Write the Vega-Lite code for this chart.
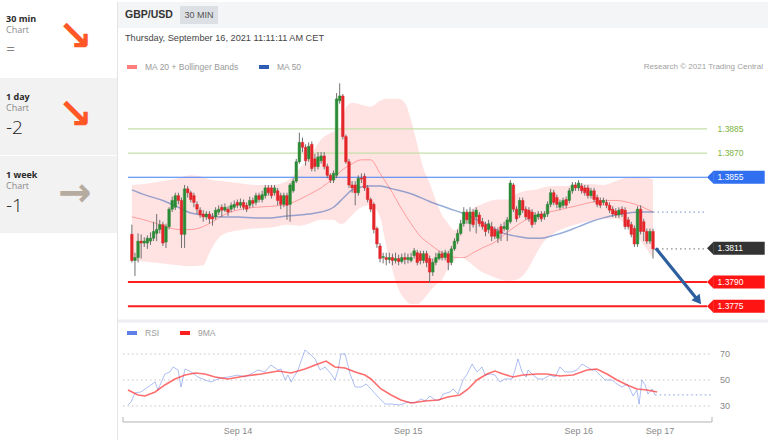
{
"$schema": "https://vega.github.io/schema/vega-lite/v6.json",
"background": "#ffffff",
"padding": 0,
"spacing": 0,
"bounds": "flush",
"resolve": {"scale": {"color": "independent", "fill": "independent", "stroke": "independent"}, "legend": {"color": "independent"}},
"config": {"view": {"stroke": null}, "font": "Liberation Sans", "axis": {"labelFont": "Liberation Sans"}, "legend": {"labelFont": "Liberation Sans"}},
"datasets": {
"frames": [{"tf":"30 min","score":"=","trend":"down"},{"tf":"1 day","score":"-2","trend":"down"},{"tf":"1 week","score":"-1","trend":"flat"}],
"candles": [
{"i":0,"o":1.38196,"c":1.38034,"h":1.38256,"l":1.38022},
{"i":1,"o":1.38034,"c":1.38052,"h":1.38082,"l":1.37938},
{"i":2,"o":1.38052,"c":1.38154,"h":1.38202,"l":1.38022},
{"i":3,"o":1.38154,"c":1.38142,"h":1.38196,"l":1.38046},
{"i":4,"o":1.38142,"c":1.38154,"h":1.38178,"l":1.38118},
{"i":5,"o":1.38142,"c":1.38172,"h":1.3819,"l":1.38106},
{"i":6,"o":1.38154,"c":1.38172,"h":1.38208,"l":1.3813},
{"i":7,"o":1.38172,"c":1.38214,"h":1.38274,"l":1.38154},
{"i":8,"o":1.38202,"c":1.38226,"h":1.38322,"l":1.38154},
{"i":9,"o":1.38226,"c":1.38256,"h":1.38286,"l":1.38202},
{"i":10,"o":1.38256,"c":1.38142,"h":1.38274,"l":1.38124},
{"i":11,"o":1.38148,"c":1.38244,"h":1.38262,"l":1.38112},
{"i":12,"o":1.38244,"c":1.38352,"h":1.38364,"l":1.38226},
{"i":13,"o":1.38352,"c":1.38406,"h":1.3843,"l":1.38334},
{"i":14,"o":1.38364,"c":1.38436,"h":1.38454,"l":1.38346},
{"i":15,"o":1.38436,"c":1.38406,"h":1.38454,"l":1.38382},
{"i":16,"o":1.38406,"c":1.38196,"h":1.38424,"l":1.38112},
{"i":17,"o":1.38196,"c":1.38478,"h":1.38502,"l":1.38112},
{"i":18,"o":1.38478,"c":1.38454,"h":1.38496,"l":1.38424},
{"i":19,"o":1.38454,"c":1.38412,"h":1.38466,"l":1.38394},
{"i":20,"o":1.38436,"c":1.38394,"h":1.38454,"l":1.38364},
{"i":21,"o":1.38382,"c":1.38352,"h":1.384,"l":1.38322},
{"i":22,"o":1.38346,"c":1.38316,"h":1.38364,"l":1.38298},
{"i":23,"o":1.38322,"c":1.38304,"h":1.38346,"l":1.38274},
{"i":24,"o":1.38304,"c":1.38322,"h":1.3834,"l":1.38286},
{"i":25,"o":1.38322,"c":1.38292,"h":1.3834,"l":1.38262},
{"i":26,"o":1.38304,"c":1.38292,"h":1.38328,"l":1.3825},
{"i":27,"o":1.38304,"c":1.38346,"h":1.38364,"l":1.38286},
{"i":28,"o":1.38334,"c":1.38352,"h":1.38376,"l":1.38316},
{"i":29,"o":1.38364,"c":1.38346,"h":1.38382,"l":1.38304},
{"i":30,"o":1.38346,"c":1.38364,"h":1.38388,"l":1.38334},
{"i":31,"o":1.38352,"c":1.38334,"h":1.3837,"l":1.3831},
{"i":32,"o":1.38352,"c":1.38376,"h":1.38394,"l":1.38334},
{"i":33,"o":1.38364,"c":1.38382,"h":1.38406,"l":1.38346},
{"i":34,"o":1.38394,"c":1.38376,"h":1.38412,"l":1.38358},
{"i":35,"o":1.38376,"c":1.38394,"h":1.38418,"l":1.38358},
{"i":36,"o":1.38394,"c":1.38364,"h":1.38412,"l":1.38346},
{"i":37,"o":1.38376,"c":1.38352,"h":1.38394,"l":1.38334},
{"i":38,"o":1.38376,"c":1.38406,"h":1.3843,"l":1.38358},
{"i":39,"o":1.38406,"c":1.38388,"h":1.38424,"l":1.38364},
{"i":40,"o":1.38394,"c":1.38436,"h":1.38454,"l":1.38376},
{"i":41,"o":1.38436,"c":1.38412,"h":1.38454,"l":1.38394},
{"i":42,"o":1.38412,"c":1.38442,"h":1.38466,"l":1.38394},
{"i":43,"o":1.38436,"c":1.38484,"h":1.38502,"l":1.38418},
{"i":44,"o":1.38484,"c":1.38454,"h":1.38502,"l":1.38436},
{"i":45,"o":1.38484,"c":1.38436,"h":1.38502,"l":1.38418},
{"i":46,"o":1.38454,"c":1.38484,"h":1.38502,"l":1.38436},
{"i":47,"o":1.38466,"c":1.38406,"h":1.38484,"l":1.38376},
{"i":48,"o":1.38436,"c":1.38382,"h":1.38454,"l":1.38352},
{"i":49,"o":1.38382,"c":1.38436,"h":1.38454,"l":1.38364},
{"i":50,"o":1.38436,"c":1.38376,"h":1.38454,"l":1.38286},
{"i":51,"o":1.38382,"c":1.38502,"h":1.38514,"l":1.38274},
{"i":52,"o":1.38466,"c":1.38526,"h":1.38544,"l":1.38454},
{"i":53,"o":1.38526,"c":1.38646,"h":1.38664,"l":1.38514},
{"i":54,"o":1.38646,"c":1.38766,"h":1.38826,"l":1.38634},
{"i":55,"o":1.38766,"c":1.38736,"h":1.38796,"l":1.38706},
{"i":56,"o":1.38736,"c":1.38652,"h":1.38754,"l":1.38622},
{"i":57,"o":1.38664,"c":1.38742,"h":1.38766,"l":1.38646},
{"i":58,"o":1.38754,"c":1.38604,"h":1.38772,"l":1.38586},
{"i":59,"o":1.38664,"c":1.38616,"h":1.38694,"l":1.38586},
{"i":60,"o":1.38616,"c":1.38676,"h":1.38706,"l":1.38598},
{"i":61,"o":1.38652,"c":1.38682,"h":1.38706,"l":1.38634},
{"i":62,"o":1.38682,"c":1.38616,"h":1.38706,"l":1.38598},
{"i":63,"o":1.38616,"c":1.38562,"h":1.38634,"l":1.38544},
{"i":64,"o":1.38562,"c":1.38532,"h":1.38574,"l":1.38514},
{"i":65,"o":1.38532,"c":1.38574,"h":1.38592,"l":1.38514},
{"i":66,"o":1.38562,"c":1.39036,"h":1.39072,"l":1.38544},
{"i":67,"o":1.39024,"c":1.39054,"h":1.39132,"l":1.39006},
{"i":68,"o":1.39054,"c":1.38802,"h":1.39066,"l":1.38784},
{"i":69,"o":1.38802,"c":1.38646,"h":1.38814,"l":1.38634},
{"i":70,"o":1.38646,"c":1.38502,"h":1.38664,"l":1.38484},
{"i":71,"o":1.38502,"c":1.38484,"h":1.38526,"l":1.38454},
{"i":72,"o":1.38502,"c":1.38454,"h":1.38526,"l":1.38376},
{"i":73,"o":1.38454,"c":1.38544,"h":1.38562,"l":1.38436},
{"i":74,"o":1.38544,"c":1.38538,"h":1.38574,"l":1.38514},
{"i":75,"o":1.38556,"c":1.38484,"h":1.38574,"l":1.38466},
{"i":76,"o":1.38484,"c":1.38412,"h":1.38502,"l":1.38394},
{"i":77,"o":1.38412,"c":1.38352,"h":1.38424,"l":1.38334},
{"i":78,"o":1.38382,"c":1.38226,"h":1.38394,"l":1.38202},
{"i":79,"o":1.38232,"c":1.38136,"h":1.38244,"l":1.38112},
{"i":80,"o":1.38124,"c":1.38046,"h":1.38142,"l":1.38022},
{"i":81,"o":1.38052,"c":1.38058,"h":1.38082,"l":1.38016},
{"i":82,"o":1.38052,"c":1.3804,"h":1.38082,"l":1.38004},
{"i":83,"o":1.3804,"c":1.38052,"h":1.38082,"l":1.38016},
{"i":84,"o":1.38052,"c":1.38034,"h":1.38076,"l":1.38004},
{"i":85,"o":1.38034,"c":1.38046,"h":1.38082,"l":1.38016},
{"i":86,"o":1.38046,"c":1.38028,"h":1.3807,"l":1.38004},
{"i":87,"o":1.38028,"c":1.38052,"h":1.38076,"l":1.38016},
{"i":88,"o":1.38052,"c":1.3804,"h":1.38082,"l":1.3801},
{"i":89,"o":1.3804,"c":1.38052,"h":1.38076,"l":1.38016},
{"i":90,"o":1.38034,"c":1.38052,"h":1.38082,"l":1.38022},
{"i":91,"o":1.38064,"c":1.38094,"h":1.38112,"l":1.38046},
{"i":92,"o":1.38082,"c":1.38022,"h":1.381,"l":1.38004},
{"i":93,"o":1.38076,"c":1.38034,"h":1.38094,"l":1.3801},
{"i":94,"o":1.38034,"c":1.38076,"h":1.38094,"l":1.38016},
{"i":95,"o":1.38076,"c":1.38022,"h":1.38094,"l":1.37992},
{"i":96,"o":1.38046,"c":1.37962,"h":1.38064,"l":1.37896},
{"i":97,"o":1.37962,"c":1.38022,"h":1.38046,"l":1.37938},
{"i":98,"o":1.38022,"c":1.38052,"h":1.38082,"l":1.38004},
{"i":99,"o":1.38046,"c":1.38076,"h":1.38094,"l":1.38034},
{"i":100,"o":1.38076,"c":1.38052,"h":1.38094,"l":1.38034},
{"i":101,"o":1.38052,"c":1.38082,"h":1.381,"l":1.38034},
{"i":102,"o":1.38076,"c":1.38022,"h":1.38094,"l":1.37974},
{"i":103,"o":1.38022,"c":1.38106,"h":1.38124,"l":1.38004},
{"i":104,"o":1.38106,"c":1.38154,"h":1.38172,"l":1.38094},
{"i":105,"o":1.38154,"c":1.38202,"h":1.38226,"l":1.38136},
{"i":106,"o":1.38202,"c":1.38262,"h":1.38286,"l":1.3819},
{"i":107,"o":1.38262,"c":1.38334,"h":1.38364,"l":1.38244},
{"i":108,"o":1.38334,"c":1.38286,"h":1.38352,"l":1.38262},
{"i":109,"o":1.38262,"c":1.38334,"h":1.38364,"l":1.38214},
{"i":110,"o":1.38334,"c":1.38256,"h":1.38352,"l":1.38238},
{"i":111,"o":1.38304,"c":1.38346,"h":1.38364,"l":1.38202},
{"i":112,"o":1.38316,"c":1.38262,"h":1.38334,"l":1.38244},
{"i":113,"o":1.38274,"c":1.38244,"h":1.38298,"l":1.38226},
{"i":114,"o":1.38256,"c":1.38214,"h":1.38274,"l":1.38184},
{"i":115,"o":1.38226,"c":1.38262,"h":1.38286,"l":1.38202},
{"i":116,"o":1.38244,"c":1.38184,"h":1.38274,"l":1.38154},
{"i":117,"o":1.38226,"c":1.38184,"h":1.38244,"l":1.38166},
{"i":118,"o":1.38172,"c":1.38214,"h":1.38238,"l":1.38142},
{"i":119,"o":1.38244,"c":1.38202,"h":1.38262,"l":1.38154},
{"i":120,"o":1.38232,"c":1.38244,"h":1.38274,"l":1.38214},
{"i":121,"o":1.38226,"c":1.38286,"h":1.38304,"l":1.38154},
{"i":122,"o":1.38274,"c":1.38514,"h":1.38532,"l":1.38262},
{"i":123,"o":1.38502,"c":1.38352,"h":1.38514,"l":1.38334},
{"i":124,"o":1.38352,"c":1.38292,"h":1.3837,"l":1.38274},
{"i":125,"o":1.38316,"c":1.38406,"h":1.38424,"l":1.38298},
{"i":126,"o":1.38406,"c":1.38346,"h":1.38424,"l":1.38328},
{"i":127,"o":1.38352,"c":1.38304,"h":1.3837,"l":1.38286},
{"i":128,"o":1.38346,"c":1.38292,"h":1.38364,"l":1.38274},
{"i":129,"o":1.38334,"c":1.38256,"h":1.38352,"l":1.38238},
{"i":130,"o":1.38274,"c":1.38316,"h":1.38334,"l":1.38256},
{"i":131,"o":1.38304,"c":1.38322,"h":1.3834,"l":1.38286},
{"i":132,"o":1.38322,"c":1.38292,"h":1.3834,"l":1.38274},
{"i":133,"o":1.38304,"c":1.38322,"h":1.3834,"l":1.38286},
{"i":134,"o":1.38322,"c":1.38382,"h":1.384,"l":1.38304},
{"i":135,"o":1.38382,"c":1.38454,"h":1.38478,"l":1.38364},
{"i":136,"o":1.38454,"c":1.38394,"h":1.38472,"l":1.38376},
{"i":137,"o":1.38424,"c":1.38382,"h":1.38442,"l":1.38358},
{"i":138,"o":1.38364,"c":1.38394,"h":1.38412,"l":1.38346},
{"i":139,"o":1.38376,"c":1.38406,"h":1.38424,"l":1.38358},
{"i":140,"o":1.38412,"c":1.38376,"h":1.3843,"l":1.38358},
{"i":141,"o":1.38406,"c":1.38466,"h":1.38484,"l":1.38388},
{"i":142,"o":1.38466,"c":1.38502,"h":1.3852,"l":1.38448},
{"i":143,"o":1.38502,"c":1.38484,"h":1.3852,"l":1.38466},
{"i":144,"o":1.38484,"c":1.38514,"h":1.38532,"l":1.38466},
{"i":145,"o":1.38496,"c":1.38466,"h":1.38514,"l":1.38448},
{"i":146,"o":1.38484,"c":1.38454,"h":1.38502,"l":1.38436},
{"i":147,"o":1.38484,"c":1.38436,"h":1.38502,"l":1.38418},
{"i":148,"o":1.38436,"c":1.38466,"h":1.38484,"l":1.38418},
{"i":149,"o":1.38466,"c":1.38412,"h":1.38484,"l":1.38394},
{"i":150,"o":1.38424,"c":1.38382,"h":1.38442,"l":1.38364},
{"i":151,"o":1.38406,"c":1.38376,"h":1.38424,"l":1.38358},
{"i":152,"o":1.38394,"c":1.38406,"h":1.38424,"l":1.38376},
{"i":153,"o":1.38394,"c":1.38376,"h":1.38412,"l":1.38358},
{"i":154,"o":1.38376,"c":1.38346,"h":1.38394,"l":1.38328},
{"i":155,"o":1.38352,"c":1.38322,"h":1.3837,"l":1.38304},
{"i":156,"o":1.3834,"c":1.38316,"h":1.38358,"l":1.38298},
{"i":157,"o":1.38316,"c":1.38346,"h":1.38364,"l":1.38298},
{"i":158,"o":1.38352,"c":1.38322,"h":1.3837,"l":1.38304},
{"i":159,"o":1.38346,"c":1.38244,"h":1.38364,"l":1.38226},
{"i":160,"o":1.38286,"c":1.38244,"h":1.38304,"l":1.38226},
{"i":161,"o":1.38256,"c":1.38196,"h":1.38274,"l":1.38178},
{"i":162,"o":1.38232,"c":1.38136,"h":1.3825,"l":1.38118},
{"i":163,"o":1.38136,"c":1.38352,"h":1.3837,"l":1.38118},
{"i":164,"o":1.38352,"c":1.38214,"h":1.38376,"l":1.38196},
{"i":165,"o":1.38274,"c":1.38214,"h":1.38292,"l":1.38154},
{"i":166,"o":1.38214,"c":1.38154,"h":1.38232,"l":1.38136},
{"i":167,"o":1.38154,"c":1.38214,"h":1.38232,"l":1.38136},
{"i":168,"o":1.38214,"c":1.38106,"h":1.38232,"l":1.38046}
],
"bands": [
{"i":0,"u":1.38502,"lo":1.38034},{"i":4,"u":1.38508,"lo":1.38028},{"i":10,"u":1.38526,"lo":1.38016},{"i":15,"u":1.38544,"lo":1.38004},
{"i":19,"u":1.38562,"lo":1.37998},{"i":23,"u":1.3855,"lo":1.38004},{"i":25,"u":1.38538,"lo":1.38082},{"i":29,"u":1.38526,"lo":1.3819},
{"i":34,"u":1.38514,"lo":1.3822},{"i":40,"u":1.38502,"lo":1.38232},{"i":45,"u":1.38502,"lo":1.38238},{"i":50,"u":1.38526,"lo":1.38256},
{"i":54,"u":1.38604,"lo":1.3825},{"i":57,"u":1.38664,"lo":1.38262},{"i":61,"u":1.38784,"lo":1.38286},{"i":65,"u":1.38832,"lo":1.38286},
{"i":67,"u":1.3885,"lo":1.38262},{"i":68,"u":1.38922,"lo":1.38262},{"i":69,"u":1.38982,"lo":1.38274},{"i":71,"u":1.39012,"lo":1.38316},
{"i":74,"u":1.39,"lo":1.38364},{"i":77,"u":1.38988,"lo":1.38376},{"i":80,"u":1.39024,"lo":1.38304},{"i":82,"u":1.39036,"lo":1.38124},
{"i":84,"u":1.39036,"lo":1.37974},{"i":86,"u":1.39036,"lo":1.37854},{"i":88,"u":1.39012,"lo":1.37794},{"i":90,"u":1.38904,"lo":1.37764},
{"i":92,"u":1.38754,"lo":1.37764},{"i":94,"u":1.38604,"lo":1.37794},{"i":96,"u":1.38514,"lo":1.37842},{"i":98,"u":1.38406,"lo":1.37884},
{"i":100,"u":1.38316,"lo":1.37914},{"i":102,"u":1.38262,"lo":1.37986},{"i":104,"u":1.3822,"lo":1.38034},{"i":106,"u":1.38262,"lo":1.38058},
{"i":108,"u":1.38316,"lo":1.38034},{"i":110,"u":1.38358,"lo":1.38004},{"i":112,"u":1.38376,"lo":1.37974},{"i":115,"u":1.384,"lo":1.37944},
{"i":118,"u":1.38412,"lo":1.3792},{"i":121,"u":1.38412,"lo":1.37908},{"i":124,"u":1.38448,"lo":1.37914},{"i":127,"u":1.38466,"lo":1.37962},
{"i":130,"u":1.38472,"lo":1.38064},{"i":133,"u":1.3849,"lo":1.38154},{"i":136,"u":1.38496,"lo":1.38202},{"i":140,"u":1.38496,"lo":1.38238},
{"i":144,"u":1.38508,"lo":1.38262},{"i":148,"u":1.38508,"lo":1.3828},{"i":152,"u":1.38502,"lo":1.38292},{"i":156,"u":1.38526,"lo":1.38292},
{"i":160,"u":1.3855,"lo":1.38244},{"i":164,"u":1.3855,"lo":1.38154},{"i":168,"u":1.38538,"lo":1.38052}
],
"ma": [
{"i":0,"series":"MA 20 + Bollinger Bands","v":1.38304},{"i":4,"series":"MA 20 + Bollinger Bands","v":1.38286},{"i":10,"series":"MA 20 + Bollinger Bands","v":1.3825},{"i":15,"series":"MA 20 + Bollinger Bands","v":1.38226},{"i":19,"series":"MA 20 + Bollinger Bands","v":1.38226},{"i":23,"series":"MA 20 + Bollinger Bands","v":1.38244},{"i":26,"series":"MA 20 + Bollinger Bands","v":1.38274},{"i":29,"series":"MA 20 + Bollinger Bands","v":1.3831},{"i":34,"series":"MA 20 + Bollinger Bands","v":1.38346},{"i":40,"series":"MA 20 + Bollinger Bands","v":1.38364},{"i":45,"series":"MA 20 + Bollinger Bands","v":1.3837},{"i":50,"series":"MA 20 + Bollinger Bands","v":1.38382},{"i":54,"series":"MA 20 + Bollinger Bands","v":1.38412},{"i":57,"series":"MA 20 + Bollinger Bands","v":1.38442},{"i":61,"series":"MA 20 + Bollinger Bands","v":1.38484},{"i":65,"series":"MA 20 + Bollinger Bands","v":1.38544},{"i":68,"series":"MA 20 + Bollinger Bands","v":1.38598},{"i":71,"series":"MA 20 + Bollinger Bands","v":1.38634},{"i":74,"series":"MA 20 + Bollinger Bands","v":1.38658},{"i":77,"series":"MA 20 + Bollinger Bands","v":1.38658},{"i":80,"series":"MA 20 + Bollinger Bands","v":1.38574},{"i":84,"series":"MA 20 + Bollinger Bands","v":1.38454},{"i":87,"series":"MA 20 + Bollinger Bands","v":1.38352},{"i":90,"series":"MA 20 + Bollinger Bands","v":1.38262},{"i":93,"series":"MA 20 + Bollinger Bands","v":1.38184},{"i":96,"series":"MA 20 + Bollinger Bands","v":1.38136},{"i":99,"series":"MA 20 + Bollinger Bands","v":1.38094},{"i":102,"series":"MA 20 + Bollinger Bands","v":1.38064},{"i":105,"series":"MA 20 + Bollinger Bands","v":1.38052},{"i":107,"series":"MA 20 + Bollinger Bands","v":1.38052},{"i":110,"series":"MA 20 + Bollinger Bands","v":1.38082},{"i":113,"series":"MA 20 + Bollinger Bands","v":1.38112},{"i":117,"series":"MA 20 + Bollinger Bands","v":1.38148},{"i":121,"series":"MA 20 + Bollinger Bands","v":1.38208},{"i":124,"series":"MA 20 + Bollinger Bands","v":1.3825},{"i":127,"series":"MA 20 + Bollinger Bands","v":1.38286},{"i":130,"series":"MA 20 + Bollinger Bands","v":1.3831},{"i":133,"series":"MA 20 + Bollinger Bands","v":1.38328},{"i":136,"series":"MA 20 + Bollinger Bands","v":1.3834},{"i":140,"series":"MA 20 + Bollinger Bands","v":1.38358},{"i":144,"series":"MA 20 + Bollinger Bands","v":1.38376},{"i":148,"series":"MA 20 + Bollinger Bands","v":1.38394},{"i":152,"series":"MA 20 + Bollinger Bands","v":1.38406},{"i":156,"series":"MA 20 + Bollinger Bands","v":1.38406},{"i":160,"series":"MA 20 + Bollinger Bands","v":1.38394},{"i":164,"series":"MA 20 + Bollinger Bands","v":1.3837},{"i":168,"series":"MA 20 + Bollinger Bands","v":1.38334},
{"i":0,"series":"MA 50","v":1.38472},{"i":4,"series":"MA 50","v":1.38442},{"i":10,"series":"MA 50","v":1.38406},{"i":15,"series":"MA 50","v":1.38364},{"i":19,"series":"MA 50","v":1.38328},{"i":23,"series":"MA 50","v":1.38316},{"i":29,"series":"MA 50","v":1.38304},{"i":34,"series":"MA 50","v":1.38304},{"i":40,"series":"MA 50","v":1.38298},{"i":45,"series":"MA 50","v":1.38298},{"i":50,"series":"MA 50","v":1.3831},{"i":54,"series":"MA 50","v":1.38316},{"i":57,"series":"MA 50","v":1.38322},{"i":61,"series":"MA 50","v":1.38334},{"i":65,"series":"MA 50","v":1.38364},{"i":68,"series":"MA 50","v":1.38418},{"i":71,"series":"MA 50","v":1.38472},{"i":74,"series":"MA 50","v":1.3849},{"i":77,"series":"MA 50","v":1.38496},{"i":80,"series":"MA 50","v":1.38496},{"i":84,"series":"MA 50","v":1.38478},{"i":90,"series":"MA 50","v":1.38448},{"i":96,"series":"MA 50","v":1.384},{"i":102,"series":"MA 50","v":1.38358},{"i":108,"series":"MA 50","v":1.38316},{"i":112,"series":"MA 50","v":1.3828},{"i":116,"series":"MA 50","v":1.38238},{"i":120,"series":"MA 50","v":1.38202},{"i":124,"series":"MA 50","v":1.38184},{"i":128,"series":"MA 50","v":1.38172},{"i":132,"series":"MA 50","v":1.38172},{"i":136,"series":"MA 50","v":1.3819},{"i":140,"series":"MA 50","v":1.38214},{"i":144,"series":"MA 50","v":1.38244},{"i":148,"series":"MA 50","v":1.38274},{"i":152,"series":"MA 50","v":1.38298},{"i":156,"series":"MA 50","v":1.38316},{"i":160,"series":"MA 50","v":1.38328},{"i":164,"series":"MA 50","v":1.38334},{"i":168,"series":"MA 50","v":1.38334}
],
"levels": [
{"level":1.3885,"kind":"target"},{"level":1.387,"kind":"target"},{"level":1.3855,"kind":"pivot"},{"level":1.3811,"kind":"last"},{"level":1.379,"kind":"support"},{"level":1.3775,"kind":"support"}
],
"lasts": [{"line":"MA 50","v":1.38334},{"line":"close","v":1.38106}],
"forecast": [{"i":168.9,"p":1.3811},{"i":182.6,"p":1.37785}],
"rsiTicks": [{"v":30},{"v":50},{"v":70}],
"dayTicks": [{"i":35.2,"day":"Sep 14"},{"i":89.1,"day":"Sep 15"},{"i":143.2,"day":"Sep 16"},{"i":168.9,"day":"Sep 17"}],
"rsi": [
{"i":0.3,"s":"RSI","v":30.8},{"i":1.3,"s":"RSI","v":33.1},{"i":2.5,"s":"RSI","v":40},{"i":4.4,"s":"RSI","v":40.8},{"i":6.7,"s":"RSI","v":44.6},{"i":8.9,"s":"RSI","v":48.5},{"i":9.8,"s":"RSI","v":42.3},{"i":12,"s":"RSI","v":54.6},{"i":13.6,"s":"RSI","v":56.2},{"i":14.6,"s":"RSI","v":60},{"i":16.2,"s":"RSI","v":57.7},{"i":17.1,"s":"RSI","v":44.6},{"i":18.4,"s":"RSI","v":58.5},{"i":20.3,"s":"RSI","v":56.2},{"i":22.5,"s":"RSI","v":52.3},{"i":24.7,"s":"RSI","v":50},{"i":26.6,"s":"RSI","v":48.5},{"i":28.8,"s":"RSI","v":50.8},{"i":32,"s":"RSI","v":52.3},{"i":35.2,"s":"RSI","v":53.8},{"i":37.4,"s":"RSI","v":52.3},{"i":39.3,"s":"RSI","v":54.6},{"i":41.5,"s":"RSI","v":57.7},{"i":43.7,"s":"RSI","v":56.2},{"i":45.6,"s":"RSI","v":61.5},{"i":47.9,"s":"RSI","v":57.7},{"i":48.8,"s":"RSI","v":58.5},{"i":50.1,"s":"RSI","v":50},{"i":51,"s":"RSI","v":53.8},{"i":52,"s":"RSI","v":48.5},{"i":54.2,"s":"RSI","v":57.7},{"i":56.4,"s":"RSI","v":73.1},{"i":58,"s":"RSI","v":70},{"i":59.6,"s":"RSI","v":66.2},{"i":61.2,"s":"RSI","v":57.7},{"i":62.8,"s":"RSI","v":60},{"i":64.7,"s":"RSI","v":54.6},{"i":65.9,"s":"RSI","v":50},{"i":66.9,"s":"RSI","v":57.7},{"i":67.8,"s":"RSI","v":70},{"i":69.1,"s":"RSI","v":70},{"i":70.7,"s":"RSI","v":54.6},{"i":72.3,"s":"RSI","v":44.6},{"i":74.2,"s":"RSI","v":44.6},{"i":75.8,"s":"RSI","v":46.9},{"i":77.3,"s":"RSI","v":43.1},{"i":79.6,"s":"RSI","v":36.9},{"i":81.8,"s":"RSI","v":31.5},{"i":83.7,"s":"RSI","v":31.5},{"i":86.5,"s":"RSI","v":30.8},{"i":89.1,"s":"RSI","v":33.1},{"i":91.3,"s":"RSI","v":32.3},{"i":93.2,"s":"RSI","v":35.4},{"i":94.5,"s":"RSI","v":33.8},{"i":96,"s":"RSI","v":37.7},{"i":97.6,"s":"RSI","v":34.6},{"i":99.2,"s":"RSI","v":34.6},{"i":100.2,"s":"RSI","v":39.2},{"i":102.4,"s":"RSI","v":40.8},{"i":103.3,"s":"RSI","v":43.1},{"i":104.9,"s":"RSI","v":39.2},{"i":106.5,"s":"RSI","v":50},{"i":107.8,"s":"RSI","v":54.6},{"i":109.4,"s":"RSI","v":62.3},{"i":110.9,"s":"RSI","v":56.2},{"i":112.5,"s":"RSI","v":60},{"i":113.5,"s":"RSI","v":53.8},{"i":115.1,"s":"RSI","v":54.6},{"i":116.6,"s":"RSI","v":53.8},{"i":118.2,"s":"RSI","v":48.5},{"i":119.8,"s":"RSI","v":50.8},{"i":122,"s":"RSI","v":50.8},{"i":123,"s":"RSI","v":57.7},{"i":123.9,"s":"RSI","v":66.2},{"i":125.2,"s":"RSI","v":56.2},{"i":126.5,"s":"RSI","v":52.3},{"i":127.1,"s":"RSI","v":57.7},{"i":128.7,"s":"RSI","v":53.8},{"i":130.3,"s":"RSI","v":50.8},{"i":131.9,"s":"RSI","v":50.8},{"i":134.1,"s":"RSI","v":53.8},{"i":135.7,"s":"RSI","v":52.3},{"i":137.2,"s":"RSI","v":60},{"i":138.8,"s":"RSI","v":56.2},{"i":141,"s":"RSI","v":56.2},{"i":142.6,"s":"RSI","v":57.7},{"i":144.2,"s":"RSI","v":62.3},{"i":145.8,"s":"RSI","v":60},{"i":147.4,"s":"RSI","v":57.7},{"i":148.3,"s":"RSI","v":57.7},{"i":149.9,"s":"RSI","v":53.8},{"i":151.5,"s":"RSI","v":50},{"i":153.7,"s":"RSI","v":50},{"i":155.3,"s":"RSI","v":46.9},{"i":156.9,"s":"RSI","v":44.6},{"i":158.5,"s":"RSI","v":46.9},{"i":159.4,"s":"RSI","v":43.1},{"i":160.4,"s":"RSI","v":37.7},{"i":161.6,"s":"RSI","v":42.3},{"i":162.3,"s":"RSI","v":31.5},{"i":163.2,"s":"RSI","v":50},{"i":164.2,"s":"RSI","v":46.2},{"i":165.1,"s":"RSI","v":39.2},{"i":166.4,"s":"RSI","v":43.1},{"i":167.4,"s":"RSI","v":38.5},
{"i":0.3,"s":"9MA","v":42.3},{"i":3.5,"s":"9MA","v":38.5},{"i":5.7,"s":"9MA","v":37.7},{"i":8.9,"s":"9MA","v":40.8},{"i":12,"s":"9MA","v":46.2},{"i":15.2,"s":"9MA","v":50.8},{"i":18.4,"s":"9MA","v":53.8},{"i":21.6,"s":"9MA","v":55.4},{"i":24.7,"s":"9MA","v":54.6},{"i":27.9,"s":"9MA","v":52.3},{"i":32,"s":"9MA","v":50.8},{"i":37.4,"s":"9MA","v":53.1},{"i":42.5,"s":"9MA","v":54.6},{"i":47.9,"s":"9MA","v":56.9},{"i":52,"s":"9MA","v":55.4},{"i":56.4,"s":"9MA","v":58.5},{"i":60.5,"s":"9MA","v":62.3},{"i":63.1,"s":"9MA","v":64.6},{"i":65.9,"s":"9MA","v":60},{"i":69.1,"s":"9MA","v":59.2},{"i":72.3,"s":"9MA","v":56.2},{"i":75.4,"s":"9MA","v":53.8},{"i":77.3,"s":"9MA","v":50.8},{"i":80.5,"s":"9MA","v":43.1},{"i":83.7,"s":"9MA","v":38.5},{"i":86.8,"s":"9MA","v":34.6},{"i":90,"s":"9MA","v":32.3},{"i":94.5,"s":"9MA","v":33.8},{"i":98.6,"s":"9MA","v":34.6},{"i":101.7,"s":"9MA","v":36.9},{"i":105.5,"s":"9MA","v":38.5},{"i":108.1,"s":"9MA","v":43.1},{"i":110.9,"s":"9MA","v":50},{"i":114.1,"s":"9MA","v":54.6},{"i":116.6,"s":"9MA","v":56.9},{"i":119.2,"s":"9MA","v":54.6},{"i":122.3,"s":"9MA","v":52.3},{"i":125.5,"s":"9MA","v":53.8},{"i":130,"s":"9MA","v":54.6},{"i":133.1,"s":"9MA","v":54.6},{"i":137.2,"s":"9MA","v":53.1},{"i":141.4,"s":"9MA","v":53.8},{"i":145.8,"s":"9MA","v":57.7},{"i":148.9,"s":"9MA","v":58.5},{"i":152.1,"s":"9MA","v":54.6},{"i":155.3,"s":"9MA","v":50},{"i":158.5,"s":"9MA","v":46.2},{"i":161.6,"s":"9MA","v":43.1},{"i":164.8,"s":"9MA","v":42.3},{"i":168,"s":"9MA","v":40.8}
]
},
"hconcat": [
{
"width": 118, "height": 440,
"data": {"name": "frames"},
"layer": [
{"mark": {"type": "rect"}, "encoding": {"y": {"field": "tf", "type": "nominal", "scale": {"domain": ["30 min","1 day","1 week"], "range": [-2, 231], "paddingInner": 0.015, "paddingOuter": 0}, "axis": null}, "x": {"value": 0}, "x2": {"value": 117}, "color": {"condition": {"test": "datum.tf === '30 min'", "value": "#ffffff"}, "value": "#f2f2f2"}}},
{"mark": {"type": "text", "align": "left", "baseline": "middle", "dy": 18.5, "font": "Open Sans", "fontWeight": "bold", "fontSize": 9, "color": "#2b2b2b"}, "encoding": {"y": {"field": "tf", "type": "nominal", "bandPosition": 0, "scale": {"domain": ["30 min","1 day","1 week"], "range": [-2, 231], "paddingInner": 0.015, "paddingOuter": 0}, "axis": null}, "x": {"value": 6}, "text": {"field": "tf"}}},
{"mark": {"type": "text", "align": "left", "baseline": "middle", "dy": 30, "font": "Open Sans", "fontSize": 9, "color": "#8a8a8a"}, "encoding": {"y": {"field": "tf", "type": "nominal", "bandPosition": 0, "axis": null}, "x": {"value": 6}, "text": {"value": "Chart"}}},
{"mark": {"type": "text", "align": "left", "baseline": "middle", "dy": 49.5, "font": "Open Sans", "fontWeight": 300, "color": "#222222"}, "encoding": {"y": {"field": "tf", "type": "nominal", "bandPosition": 0, "axis": null}, "x": {"value": 6}, "text": {"field": "score"}, "size": {"condition": {"test": "datum.score === '='", "value": 16}, "value": 19}}},
{"transform": [{"filter": "datum.trend === 'down'"}], "mark": {"type": "text", "align": "center", "baseline": "middle", "dy": 37, "font": "DejaVu Sans", "fontWeight": "bold", "fontSize": 42, "color": "#ff5726"}, "encoding": {"y": {"field": "tf", "type": "nominal", "bandPosition": 0, "axis": null}, "x": {"value": 75}, "text": {"value": "↘"}}},
{"transform": [{"filter": "datum.trend === 'flat'"}], "mark": {"type": "text", "align": "center", "baseline": "middle", "dy": 38, "font": "DejaVu Sans", "fontWeight": "bold", "fontSize": 40, "color": "#b5ab9f"}, "encoding": {"y": {"field": "tf", "type": "nominal", "bandPosition": 0, "axis": null}, "x": {"value": 75}, "text": {"value": "→"}}},
{"mark": {"type": "rule", "color": "#e4e4e4"}, "encoding": {"x": {"value": 117.5}, "y": {"value": 0}, "y2": {"value": 440}}}
]
},
{
"spacing": 0,
"bounds": "flush",
"resolve": {"scale": {"color": "independent", "fill": "independent", "stroke": "independent"}, "legend": {"color": "independent"}},
"vconcat": [
{
"width": 650, "height": 72,
"data": {"values": [{"pair": "GBP/USD", "tf": "30 MIN", "stamp": "Thursday, September 16, 2021 11:11:11 AM CET", "credit": "Research © 2021 Trading Central"}]},
"layer": [
{"mark": {"type": "rect", "color": "#f4f5f6"}, "encoding": {"x": {"value": 0}, "x2": {"value": 650}, "y": {"value": 0}, "y2": {"value": 26}}},
{"mark": {"type": "rect", "color": "#dcdfe3"}, "encoding": {"x": {"value": 62}, "x2": {"value": 100}, "y": {"value": 4}, "y2": {"value": 22}}},
{"mark": {"type": "text", "align": "left", "baseline": "middle", "fontWeight": "bold", "fontSize": 10.5, "color": "#333333"}, "encoding": {"x": {"value": 7}, "y": {"value": 13}, "text": {"field": "pair"}}},
{"mark": {"type": "text", "align": "center", "baseline": "middle", "fontSize": 9, "color": "#555555"}, "encoding": {"x": {"value": 81}, "y": {"value": 13}, "text": {"field": "tf"}}},
{"mark": {"type": "text", "align": "left", "baseline": "middle", "fontSize": 9.2, "color": "#444444"}, "encoding": {"x": {"value": 7}, "y": {"value": 36}, "text": {"field": "stamp"}}},
{"mark": {"type": "text", "align": "right", "baseline": "middle", "fontSize": 8, "color": "#a0a0a0"}, "encoding": {"x": {"value": 645}, "y": {"value": 65}, "text": {"field": "credit"}}}
]
},
{
"width": 594, "height": 246,
"layer": [
{"data": {"name": "bands"}, "mark": {"type": "area", "color": "#ff8080", "opacity": 0.22, "interpolate": "monotone"}, "encoding": {"x": {"field": "i", "type": "quantitative", "scale": {"domain": [-2.855, 185.4], "nice": false, "zero": false}, "axis": null}, "y": {"field": "u", "type": "quantitative", "scale": {"domain": [1.37696, 1.39159], "nice": false, "zero": false}, "axis": null}, "y2": {"field": "lo"}}},
{"data": {"name": "levels"}, "transform": [{"filter": "datum.kind !== 'last'"}], "mark": {"type": "rule"}, "encoding": {"x": {"datum": -1.27, "type": "quantitative", "scale": {"domain": [-2.855, 185.4], "nice": false, "zero": false}, "axis": null}, "x2": {"datum": 185.4}, "y": {"field": "level", "type": "quantitative", "scale": {"domain": [1.37696, 1.39159], "nice": false, "zero": false}, "axis": null}, "stroke": {"field": "kind", "type": "nominal", "scale": {"domain": ["target", "pivot", "support"], "range": ["#c5e0a9", "#3f7ef5", "#ff1f1f"]}, "legend": null}, "strokeWidth": {"condition": {"test": "datum.kind === 'support'", "value": 2}, "value": 1.2}}},
{"data": {"name": "ma"}, "mark": {"type": "line", "interpolate": "monotone"}, "encoding": {"x": {"field": "i", "type": "quantitative", "scale": {"domain": [-2.855, 185.4], "nice": false, "zero": false}, "axis": null}, "y": {"field": "v", "type": "quantitative", "scale": {"domain": [1.37696, 1.39159], "nice": false, "zero": false}, "axis": null}, "color": {"field": "series", "type": "nominal", "scale": {"domain": ["MA 20 + Bollinger Bands", "MA 50"], "range": ["#ff7d7d", "#2f5db5"]}, "legend": {"title": null, "orient": "none", "legendX": 7, "legendY": -14, "direction": "horizontal", "symbolType": "stroke", "symbolStrokeWidth": 4, "symbolSize": 100, "labelFontSize": 8.5, "labelColor": "#9a9a9a", "columnPadding": 12, "labelOffset": 6, "padding": 0}}, "strokeOpacity": {"condition": {"test": "datum.series === 'MA 50'", "value": 0.5}, "value": 0.7}, "strokeWidth": {"condition": {"test": "datum.series === 'MA 50'", "value": 1.5}, "value": 1}}},
{"data": {"name": "lasts"}, "mark": {"type": "rule", "strokeDash": [1.5, 3], "strokeWidth": 1.2}, "encoding": {"x": {"datum": 168, "type": "quantitative", "scale": {"domain": [-2.855, 185.4], "nice": false, "zero": false}, "axis": null}, "x2": {"datum": 185.4}, "y": {"field": "v", "type": "quantitative", "scale": {"domain": [1.37696, 1.39159], "nice": false, "zero": false}, "axis": null}, "color": {"condition": {"test": "datum.line === 'MA 50'", "value": "#8ea3d6"}, "value": "#8c8c8c"}}},
{"data": {"name": "candles"}, "mark": {"type": "rule", "color": "#707070", "strokeWidth": 1}, "encoding": {"x": {"field": "i", "type": "quantitative", "scale": {"domain": [-2.855, 185.4], "nice": false, "zero": false}, "axis": null}, "y": {"field": "l", "type": "quantitative", "scale": {"domain": [1.37696, 1.39159], "nice": false, "zero": false}, "axis": null}, "y2": {"field": "h"}}},
{"data": {"name": "candles"}, "mark": {"type": "bar", "width": 2.6, "strokeWidth": 0.5}, "encoding": {"x": {"field": "i", "type": "quantitative", "scale": {"domain": [-2.855, 185.4], "nice": false, "zero": false}, "axis": null}, "y": {"field": "o", "type": "quantitative", "scale": {"domain": [1.37696, 1.39159], "nice": false, "zero": false}, "axis": null}, "y2": {"field": "c"}, "color": {"condition": {"test": "datum.c >= datum.o", "value": "#2b8a35"}, "value": "#e3262b"}, "stroke": {"condition": {"test": "datum.c >= datum.o", "value": "#2b8a35"}, "value": "#e3262b"}}},
{"data": {"name": "levels"}, "transform": [{"filter": "datum.kind !== 'target'"}], "mark": {"type": "bar", "orient": "horizontal", "height": 13}, "encoding": {"x": {"datum": 187.4, "type": "quantitative", "scale": {"domain": [-2.855, 185.4], "nice": false, "zero": false}, "axis": null}, "x2": {"datum": 204}, "y": {"field": "level", "type": "quantitative", "scale": {"domain": [1.37696, 1.39159], "nice": false, "zero": false}, "axis": null}, "fill": {"field": "kind", "type": "nominal", "scale": {"domain": ["pivot", "last", "support"], "range": ["#2f6ff0", "#333333", "#ff1414"]}, "legend": null}}},
{"data": {"name": "levels"}, "transform": [{"filter": "datum.kind !== 'target'"}], "mark": {"type": "point", "shape": "M-1,0L0,-1L0,1Z", "filled": true, "size": 169, "opacity": 1, "strokeWidth": 0}, "encoding": {"x": {"datum": 187.5, "type": "quantitative", "scale": {"domain": [-2.855, 185.4], "nice": false, "zero": false}, "axis": null}, "y": {"field": "level", "type": "quantitative", "scale": {"domain": [1.37696, 1.39159], "nice": false, "zero": false}, "axis": null}, "fill": {"field": "kind", "type": "nominal", "scale": {"domain": ["pivot", "last", "support"], "range": ["#2f6ff0", "#333333", "#ff1414"]}, "legend": null}}},
{"data": {"name": "levels"}, "transform": [{"filter": "datum.kind !== 'target'"}], "mark": {"type": "text", "align": "left", "baseline": "middle", "fontSize": 8.5, "color": "#ffffff"}, "encoding": {"x": {"datum": 188.8, "type": "quantitative", "scale": {"domain": [-2.855, 185.4], "nice": false, "zero": false}, "axis": null}, "y": {"field": "level", "type": "quantitative", "scale": {"domain": [1.37696, 1.39159], "nice": false, "zero": false}, "axis": null}, "text": {"field": "level", "type": "quantitative", "format": ".4f"}}},
{"data": {"name": "levels"}, "transform": [{"filter": "datum.kind === 'target'"}], "mark": {"type": "text", "align": "left", "baseline": "middle", "fontSize": 8.5, "color": "#7cb342"}, "encoding": {"x": {"datum": 188.8, "type": "quantitative", "scale": {"domain": [-2.855, 185.4], "nice": false, "zero": false}, "axis": null}, "y": {"field": "level", "type": "quantitative", "scale": {"domain": [1.37696, 1.39159], "nice": false, "zero": false}, "axis": null}, "text": {"field": "level", "type": "quantitative", "format": ".4f"}}},
{"data": {"name": "forecast"}, "mark": {"type": "line", "color": "#2d5f9f", "strokeWidth": 3.2}, "encoding": {"x": {"field": "i", "type": "quantitative", "scale": {"domain": [-2.855, 185.4], "nice": false, "zero": false}, "axis": null}, "y": {"field": "p", "type": "quantitative", "scale": {"domain": [1.37696, 1.39159], "nice": false, "zero": false}, "axis": null}}},
{"data": {"name": "forecast"}, "transform": [{"filter": "datum.i > 170"}], "mark": {"type": "point", "shape": "triangle-up", "angle": 142, "filled": true, "size": 110, "color": "#2d5f9f", "opacity": 1}, "encoding": {"x": {"field": "i", "type": "quantitative", "scale": {"domain": [-2.855, 185.4], "nice": false, "zero": false}, "axis": null}, "y": {"field": "p", "type": "quantitative", "scale": {"domain": [1.37696, 1.39159], "nice": false, "zero": false}, "axis": null}}}
]
},
{
"width": 594, "height": 122,
"layer": [
{"data": {"name": "rsiTicks"}, "mark": {"type": "rule", "strokeDash": [1.5, 3], "color": "#c4c4c4", "strokeWidth": 1}, "encoding": {"x": {"datum": -1.27, "type": "quantitative", "scale": {"domain": [-2.855, 185.4], "nice": false, "zero": false}, "axis": null}, "x2": {"datum": 185.4}, "y": {"field": "v", "type": "quantitative", "scale": {"domain": [2.31, 96.15], "nice": false, "zero": false}, "axis": null}}},
{"data": {"name": "rsiTicks"}, "mark": {"type": "text", "align": "left", "baseline": "middle", "fontSize": 9, "color": "#888888"}, "encoding": {"x": {"datum": 187.9, "type": "quantitative", "scale": {"domain": [-2.855, 185.4], "nice": false, "zero": false}, "axis": null}, "y": {"field": "v", "type": "quantitative", "scale": {"domain": [2.31, 96.15], "nice": false, "zero": false}, "axis": null}, "text": {"field": "v", "type": "quantitative"}}},
{"data": {"name": "dayTicks"}, "mark": {"type": "text", "align": "center", "baseline": "middle", "fontSize": 9, "color": "#888888"}, "encoding": {"x": {"field": "i", "type": "quantitative", "scale": {"domain": [-2.855, 185.4], "nice": false, "zero": false}, "axis": null}, "y": {"datum": 10.75, "type": "quantitative", "scale": {"domain": [2.31, 96.15], "nice": false, "zero": false}, "axis": null}, "text": {"field": "day"}}},
{"data": {"name": "rsi"}, "mark": {"type": "line"}, "encoding": {
"x": {"field": "i", "type": "quantitative", "scale": {"domain": [-2.855, 185.4], "nice": false, "zero": false}, "axis": null},
"y": {"field": "v", "type": "quantitative", "scale": {"domain": [2.31, 96.15], "nice": false, "zero": false}, "axis": null},
"color": {"field": "s", "type": "nominal", "scale": {"domain": ["RSI", "9MA"], "range": ["#5f80e8", "#ff2020"]}, "legend": {"title": null, "orient": "none", "legendX": 7, "legendY": 6, "direction": "horizontal", "symbolType": "stroke", "symbolStrokeWidth": 4, "symbolSize": 100, "labelFontSize": 8.5, "labelColor": "#9a9a9a", "columnPadding": 12, "labelOffset": 6, "padding": 0}},
"strokeOpacity": {"condition": {"test": "datum.s === 'RSI'", "value": 0.5}, "value": 0.65},
"strokeWidth": {"condition": {"test": "datum.s === 'RSI'", "value": 1}, "value": 1.6}}},
{"data": {"values": [{}]}, "mark": {"type": "rule", "color": "#eceef1", "strokeWidth": 3}, "encoding": {"x": {"datum": -2.855, "type": "quantitative", "scale": {"domain": [-2.855, 185.4], "nice": false, "zero": false}, "axis": null}, "x2": {"datum": 204}, "y": {"datum": 95.3, "type": "quantitative", "scale": {"domain": [2.31, 96.15], "nice": false, "zero": false}, "axis": null}}},
{"data": {"values": [{"v": 38.5}]}, "mark": {"type": "rule", "strokeDash": [1.5, 3], "color": "#9db1f0", "strokeWidth": 1.2}, "encoding": {"x": {"datum": 167.4, "type": "quantitative", "scale": {"domain": [-2.855, 185.4], "nice": false, "zero": false}, "axis": null}, "x2": {"datum": 185.4}, "y": {"field": "v", "type": "quantitative", "scale": {"domain": [2.31, 96.15], "nice": false, "zero": false}, "axis": null}}},
{"data": {"values": [{}]}, "mark": {"type": "rule", "color": "#b4b4b4"}, "encoding": {"x": {"datum": -1.27, "type": "quantitative", "scale": {"domain": [-2.855, 185.4], "nice": false, "zero": false}, "axis": null}, "x2": {"datum": 185.4}, "y": {"datum": 17.7, "type": "quantitative", "scale": {"domain": [2.31, 96.15], "nice": false, "zero": false}, "axis": null}}},
{"data": {"values": [{}]}, "mark": {"type": "rule", "color": "#b4b4b4"}, "encoding": {"x": {"datum": -1.27, "type": "quantitative", "scale": {"domain": [-2.855, 185.4], "nice": false, "zero": false}, "axis": null}, "y": {"datum": 17.7, "type": "quantitative", "scale": {"domain": [2.31, 96.15], "nice": false, "zero": false}, "axis": null}, "y2": {"datum": 21.6}}},
{"data": {"values": [{}]}, "mark": {"type": "rule", "color": "#b4b4b4"}, "encoding": {"x": {"datum": 185.4, "type": "quantitative", "scale": {"domain": [-2.855, 185.4], "nice": false, "zero": false}, "axis": null}, "y": {"datum": 17.7, "type": "quantitative", "scale": {"domain": [2.31, 96.15], "nice": false, "zero": false}, "axis": null}, "y2": {"datum": 21.6}}}
]
}
]
}
]
}
